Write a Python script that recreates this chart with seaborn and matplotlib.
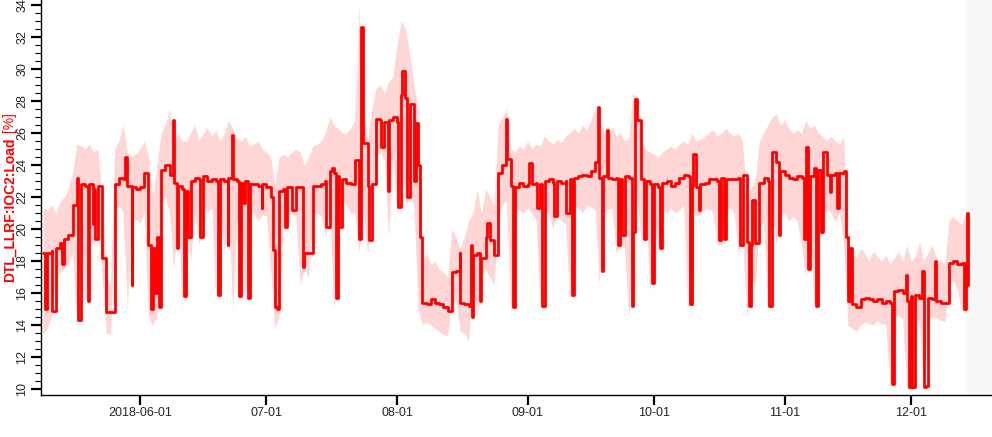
import matplotlib
matplotlib.use("Agg")
import matplotlib.pyplot as plt
import pandas as pd
import seaborn as sns
from matplotlib.ticker import MultipleLocator

# daily mean load [%], starting 2018-05-09
load_mean = [
    18.5, 18.5, 18.6, 18.8, 19.1, 19.4, 19.6, 21.5, 23.2, 22.8,
    22.7, 22.8, 22.5, 22.7, 18.2, 14.8, 14.8, 22.8, 23.2, 23.1,
    22.7, 22.6, 22.5, 22.6, 23.5, 19.0, 18.8, 19.5, 23.7, 24.0,
    23.4, 22.9, 22.7, 22.5, 22.4, 23.0, 23.2, 23.1, 23.3, 23.0,
    23.1, 23.0, 23.1, 23.0, 23.2, 23.1, 23.0, 22.9, 23.0, 22.8,
    22.8, 22.7, 22.8, 22.6, 22.0, 15.1, 22.4, 22.5, 22.6, 22.5,
    22.6, 22.6, 18.5, 18.5, 22.7, 22.7, 22.8, 23.0, 23.6, 23.5,
    23.3, 23.1, 22.9, 22.8, 24.3, 19.4, 25.4, 22.7, 22.8, 26.9,
    26.8, 26.7, 26.8, 27.0, 26.7, 28.4, 28.2, 27.8, 23.0, 24.0,
    15.4, 15.3, 15.6, 15.4, 15.3, 15.1, 14.9, 17.3, 17.4, 15.4,
    15.3, 15.2, 18.4, 18.5, 18.2, 19.5, 19.3, 18.4, 23.5, 24.0,
    24.4, 22.7, 22.6, 22.9, 22.7, 22.8, 22.8, 22.9, 22.8, 23.0,
    23.1, 22.9, 23.0, 22.9, 23.0, 23.1, 23.2, 23.3, 23.4, 23.3,
    23.6, 24.2, 23.2, 23.3, 23.2, 23.1, 23.2, 23.1, 23.3, 23.2,
    19.8, 26.8, 23.1, 23.0, 22.8, 22.8, 22.6, 22.9, 23.0, 22.7,
    22.9, 23.2, 23.4, 23.3, 22.7, 22.6, 22.8, 22.9, 23.1, 23.1,
    23.0, 23.2, 23.1, 23.1, 23.1, 23.2, 23.4, 19.2, 19.0, 19.1,
    22.9, 23.2, 23.0, 24.8, 24.2, 23.6, 23.4, 23.2, 23.1, 23.3,
    23.2, 23.5, 23.3, 23.8, 23.7, 23.5, 23.4, 23.4, 23.5, 23.5,
    23.6, 15.5, 15.3, 15.1, 15.6, 15.7, 15.6, 15.5, 15.6, 15.4,
    15.5, 15.4, 16.1, 16.2, 16.0, 15.5, 15.8, 15.9, 15.7, 15.6,
    15.7, 15.6, 15.5, 15.4, 15.4, 17.9, 18.0, 17.8, 17.9, 17.9,
]

# short excursions of the mean (day offset from 2018-05-09, value)
spike_day = [
    0.5, 2.1, 4.5, 8.3, 10.7, 11.8, 12.4, 19.4, 21.0, 25.5, 26.5, 27.4,
    30.8, 31.8, 33.4, 34.5, 37.3, 41.5, 43.9, 44.8, 46.5, 47.5, 48.6, 51.9,
    54.6, 55.6, 57.4, 59.1, 61.7, 67.1, 68.5, 69.5, 70.2, 75.5, 77.3, 80.2,
    81.9, 84.2, 85.2, 86.4, 88.5, 89.5, 98.9, 101.5, 101.9, 103.7, 105.3,
    109.9, 111.5, 115.3, 117.2, 118.4, 121.3, 124.1, 125.5, 131.7, 132.7,
    133.8, 136.5, 137.4, 139.8, 140.4, 142.6, 144.5, 146.4, 153.6, 154.3,
    155.7, 160.4, 161.6, 165.4, 167.6, 168.3, 172.3, 174.7, 180.6, 181.1,
    181.5, 183.5, 184.6, 185.1, 186.8, 188.4, 190.5, 191.5, 201.5, 204.8,
    205.5, 206.3, 208.6, 209.1, 209.6, 211.7, 218.6, 219.2, 219.6,
]
spike_val = [
    15.0, 14.9, 17.8, 14.3, 15.5, 20.3, 19.4, 24.5, 16.5, 15.0, 16.0, 15.1,
    26.8, 18.8, 15.8, 19.5, 19.5, 15.9, 19.0, 25.9, 15.8, 21.6, 15.7, 21.3,
    18.7, 15.0, 20.1, 21.2, 17.6, 20.1, 23.8, 15.7, 20.1, 32.6, 19.3, 25.1,
    22.4, 21.4, 29.9, 22.0, 26.6, 19.5, 18.5, 19.0, 14.5, 15.5, 20.4,
    26.9, 15.1, 24.1, 21.3, 15.2, 20.8, 21.0, 15.9, 27.6, 17.4,
    26.2, 19.0, 19.6, 15.2, 28.1, 19.4, 16.6, 18.8, 15.3, 24.7,
    21.2, 19.3, 19.4, 19.0, 15.2, 21.8, 15.2, 19.6, 19.4, 25.1,
    17.5, 15.2, 19.8, 24.8, 22.3, 21.3, 19.5, 18.8, 10.3, 17.1,
    10.1, 10.1, 17.4, 10.1, 10.2, 18.0, 15.0, 21.0, 16.5,
]

# daily max / min envelope
band_hi = [
    21.3, 21.2, 21.5, 21.0, 21.7, 22.0, 22.5, 23.5, 25.3, 25.2,
    25.0, 25.3, 24.8, 25.0, 22.0, 17.0, 16.5, 25.0, 25.5, 26.5,
    24.8, 24.5, 24.7, 25.0, 25.5, 24.5, 22.0, 24.0, 26.0, 26.5,
    27.5, 25.5, 26.0, 25.5, 25.5, 26.0, 26.5, 25.5, 26.0, 26.3,
    25.8, 26.2, 25.5, 26.0, 26.8, 26.3, 25.7, 25.5, 25.8, 25.2,
    25.3, 25.5, 25.0, 24.8, 24.5, 22.8, 24.5, 24.7, 24.5, 24.8,
    25.0, 24.8, 24.0, 24.5, 25.2, 25.3, 25.5, 26.0, 27.0, 26.5,
    26.3, 26.0, 26.0, 26.3, 26.8, 34.0, 27.5, 25.5, 27.5, 28.8,
    29.0, 28.5, 29.2, 29.5, 31.5, 33.0, 32.5, 31.0, 29.0, 27.5,
    18.0, 18.5, 17.8, 18.0, 17.5, 17.3, 17.0, 20.0, 19.5, 18.8,
    19.5, 20.5, 21.0, 22.5, 21.0, 22.5, 22.0, 21.5, 26.5, 27.0,
    27.5, 25.0, 24.8, 25.2, 25.0, 25.5, 25.0, 25.3, 25.2, 25.8,
    25.5, 25.3, 25.6, 25.4, 25.8, 26.0, 26.3, 26.0, 26.5, 26.2,
    26.8, 27.5, 26.5, 26.3, 26.0, 26.4, 25.8, 26.0, 25.5, 25.7,
    28.5, 28.0, 25.5, 25.0, 24.8, 24.7, 24.5, 24.8, 25.0, 25.2,
    25.0, 25.3, 25.5, 25.3, 26.0, 25.5, 25.6, 25.8, 26.0, 26.2,
    25.8, 26.0, 26.3, 26.0, 25.8, 26.0, 25.5, 22.0, 22.5, 23.0,
    25.5, 26.0, 26.5, 27.0, 27.2, 26.5, 26.8, 26.3, 26.0, 26.2,
    26.0, 26.8, 26.3, 26.5, 26.0, 25.8, 25.5, 25.8, 25.5, 25.3,
    25.8, 19.5, 18.5, 18.2, 18.8, 18.5, 18.0, 18.6, 18.3, 18.0,
    18.4, 17.8, 18.2, 18.6, 18.0, 19.0, 18.0, 18.3, 19.2, 18.0,
    18.5, 19.0, 18.2, 18.0, 17.8, 20.5, 20.8, 20.5, 20.3, 21.2,
]
band_lo = [
    13.4, 13.8, 14.5, 17.0, 17.2, 17.6, 17.8, 18.5, 14.0, 20.5,
    15.0, 19.5, 19.0, 20.5, 17.0, 13.5, 13.4, 21.0, 21.5, 21.0,
    15.0, 20.5, 20.6, 20.4, 21.0, 14.5, 14.0, 14.5, 21.5, 22.0,
    21.0, 17.5, 21.0, 15.0, 20.5, 18.0, 21.0, 19.0, 21.5, 21.0,
    21.3, 15.5, 21.0, 18.5, 21.2, 15.0, 20.5, 20.8, 15.2, 21.0,
    21.0, 20.5, 20.9, 20.8, 17.5, 13.8, 14.5, 20.5, 20.8, 21.0,
    20.8, 16.5, 17.5, 17.0, 20.8, 21.0, 20.8, 19.5, 21.5, 15.0,
    19.5, 21.8, 21.5, 21.0, 21.0, 18.5, 21.0, 18.5, 20.5, 24.5,
    24.8, 24.3, 19.5, 24.5, 21.0, 25.0, 21.5, 22.0, 21.5, 15.0,
    14.0, 14.2, 14.0, 13.8, 13.6, 13.4, 13.3, 15.5, 15.5, 13.6,
    13.5, 13.0, 16.8, 14.5, 17.0, 17.5, 17.0, 16.5, 20.5, 21.5,
    21.8, 14.5, 21.0, 21.2, 21.0, 21.3, 21.0, 20.5, 14.8, 21.2,
    21.0, 20.0, 21.0, 20.5, 20.3, 15.5, 21.5, 21.3, 21.0, 21.5,
    21.4, 21.2, 16.5, 21.0, 21.2, 21.3, 18.5, 19.0, 18.8, 14.5,
    19.0, 22.0, 19.0, 21.5, 16.0, 21.0, 18.5, 21.2, 21.0, 21.3,
    21.0, 21.2, 21.5, 15.0, 21.0, 20.8, 21.0, 21.2, 21.3, 21.0,
    19.0, 19.0, 21.2, 21.3, 21.0, 18.5, 19.5, 14.5, 17.0, 16.5,
    20.0, 20.5, 14.8, 21.0, 19.0, 20.8, 21.0, 20.5, 20.8, 20.5,
    19.0, 17.0, 20.8, 15.0, 19.0, 21.0, 21.2, 21.0, 20.5, 21.0,
    19.0, 14.0, 13.8, 13.6, 14.0, 14.2, 14.1, 14.0, 14.3, 14.1,
    14.0, 10.2, 14.5, 14.6, 14.4, 10.0, 10.0, 14.5, 14.0, 10.0,
    14.3, 14.5, 14.4, 14.3, 14.2, 16.5, 16.8, 16.2, 14.8, 15.5,
]

tick_dates = ["2018-06-01", "2018-07-01", "2018-08-01", "2018-09-01",
              "2018-10-01", "2018-11-01", "2018-12-01"]
tick_labels = ["2018-06-01", "07-01", "08-01", "09-01", "10-01", "11-01", "12-01"]

start = pd.Timestamp("2018-05-09")
daily = pd.date_range(start, periods=len(load_mean), freq="D")
spike_time = start + pd.to_timedelta(spike_day, unit="D")

line_df = pd.concat([
    pd.DataFrame({"time": daily, "load": load_mean}),
    pd.DataFrame({"time": spike_time, "load": spike_val}),
]).sort_values("time")

sns.set_style("ticks")
plt.rcParams["font.family"] = ["Liberation Sans", "DejaVu Sans"]

fig, ax = plt.subplots(figsize=(9.92, 4.37), dpi=100)
fig.subplots_adjust(left=41 / 992, right=1.0, bottom=1 - 395 / 437, top=1.0)

# shaded "no data yet" region on the right
ax.axvspan(pd.Timestamp("2018-12-14 07:00"), pd.Timestamp("2018-12-20 06:00"),
           color="#f8f8f8", lw=0, zorder=0)

ax.fill_between(daily, band_lo, band_hi, color="#ffd6d6", lw=0, zorder=1)
sns.lineplot(data=line_df, x="time", y="load", color="red", lw=2,
             drawstyle="steps-post", estimator=None, ax=ax, zorder=2)

ax.set_xlim(pd.Timestamp("2018-05-08 12:00"), pd.Timestamp("2018-12-20 05:00"))
ax.set_ylim(9.63, 34.31)
ax.set_xlabel("")
ax.set_ylabel("")

ax.set_xticks(pd.to_datetime(tick_dates))
ax.set_xticklabels(tick_labels)
ax.yaxis.set_major_locator(MultipleLocator(2))
ax.yaxis.set_minor_locator(MultipleLocator(0.5))
ax.tick_params(axis="both", which="major", length=7, width=1.6,
               labelsize=9, color="black", pad=2)
ax.tick_params(axis="y", which="minor", length=4, width=0.8, color="black")
ax.tick_params(axis="x", which="minor", bottom=False)
for lbl in ax.get_yticklabels():
    lbl.set_rotation(90)
    lbl.set_va("center")

sns.despine(ax=ax)
for side in ["left", "bottom"]:
    ax.spines[side].set_color("black")
    ax.spines[side].set_linewidth(1)

# y label: bold name + regular unit
t1 = fig.text(10 / 992, 0, "DTL_LLRF:IOC2:Load", rotation=90, color="red",
              fontweight="bold", fontsize=10, ha="center", va="bottom")
t2 = fig.text(10 / 992, 0, " [%]", rotation=90, color="red",
              fontsize=10, ha="center", va="bottom")
fig.canvas.draw()
r = fig.canvas.get_renderer()
h1 = t1.get_window_extent(r).height
h2 = t2.get_window_extent(r).height
y0 = (437 - 197.5) - (h1 + h2) / 2
t1.set_y(y0 / 437)
t2.set_y((y0 + h1) / 437)

fig.savefig("out.png", dpi=100)
